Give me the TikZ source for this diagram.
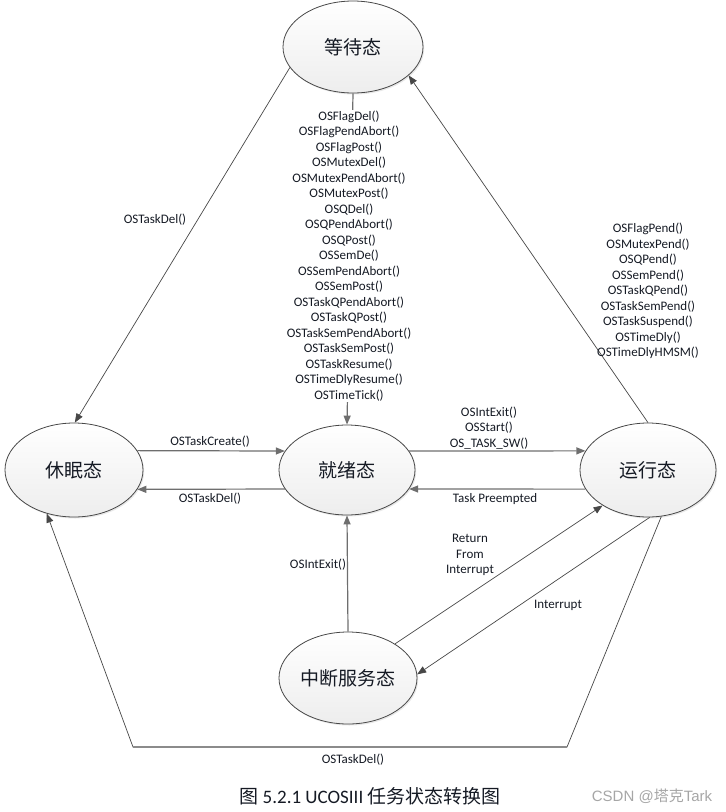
\documentclass[tikz,border=0pt]{standalone}
\usepackage{fontspec}
\setmainfont{Carlito}
\newfontfamily\cjk{Noto Sans CJK SC}
\newfontfamily\wmfont{Liberation Sans}
\usetikzlibrary{shapes.geometric,arrows.meta,shadows}
\definecolor{linec}{HTML}{474747}
\definecolor{lineg}{HTML}{6E6E6E}
\definecolor{txtc}{HTML}{151A24}
\begin{document}
\begin{tikzpicture}[x=1pt,y=-1pt,
  state/.style={ellipse, draw=linec, line width=0.8pt, top color=white, bottom color=gray!14,
    inner sep=0pt, text=txtc, font=\cjk\fontsize{19}{22}\selectfont,
    drop shadow={opacity=0.18,shadow xshift=1.2pt,shadow yshift=-1.5pt}},
  lbl/.style={font=\fontsize{13}{15.5}\selectfont, align=center, inner sep=1pt, text=txtc},
  thinarr/.style={draw=linec, line width=0.7pt, -{Triangle[length=9pt,width=7pt]}},
  thickarr/.style={draw=lineg, line width=1.2pt, -{Triangle[length=9pt,width=7pt]}}]
\useasboundingbox (0,0) rectangle (726,812);

% states
\node[state, minimum width=140pt, minimum height=92pt] (wait) at (353,47) {等待态};
\node[state, minimum width=138pt, minimum height=94pt] (sleep) at (74,470) {休眠态};
\node[state, minimum width=136pt, minimum height=90pt] (ready) at (347,470) {就绪态};
\node[state, minimum width=136pt, minimum height=94pt] (run) at (648,470) {运行态};
\node[state, minimum width=138pt, minimum height=92pt] (isr) at (348,678) {中断服务态};

% connectors
\draw[thinarr] (wait.198) -- (sleep.89);
\draw[thickarr] (wait.south) -- (ready.north);
\draw[thinarr] (run.90) -- (wait.333);
\draw[thickarr] (sleep.17) -- (ready.163);
\draw[thickarr] (ready.197) -- (sleep.343);
\draw[thickarr] (ready.17) -- (run.163);
\draw[thickarr] (run.197) -- (ready.343);
\draw[thickarr] (isr.north) -- (ready.south);
\draw[thinarr] (isr.36) -- (run.218);
\draw[thinarr] (run.272) -- (isr.3);
\coordinate (br) at (567,747);
\coordinate (bl) at (133,747);
\draw[thinarr] (run.286) -- (br) -- (bl) -- (sleep.238);
\draw[draw=lineg!80, line width=1.3pt] (br) -- (bl);

% labels
\node[lbl, fill=white] (lwr) at (349,256) {OSFlagDel()\\OSFlagPendAbort()\\OSFlagPost()\\OSMutexDel()\\OSMutexPendAbort()\\OSMutexPost()\\OSQDel()\\OSQPendAbort()\\OSQPost()\\OSSemDe()\\OSSemPendAbort()\\OSSemPost()\\OSTaskQPendAbort()\\OSTaskQPost()\\OSTaskSemPendAbort()\\OSTaskSemPost()\\OSTaskResume()\\OSTimeDlyResume()\\OSTimeTick()};
\node[lbl] (lrw) at (648,291) {OSFlagPend()\\OSMutexPend()\\OSQPend()\\OSSemPend()\\OSTaskQPend()\\OSTaskSemPend()\\OSTaskSuspend()\\OSTimeDly()\\OSTimeDlyHMSM()};
\node[lbl] (lws) at (155,220) {OSTaskDel()};
\node[lbl] (lsr) at (210,442) {OSTaskCreate()};
\node[lbl] (lrs) at (210,499) {OSTaskDel()};
\node[lbl] (lrr) at (489,428) {OSIntExit()\\OSStart()\\OS\_TASK\_SW()};
\node[lbl] (lpr) at (495,499) {Task Preempted};
\node[lbl] (lir) at (318,565) {OSIntExit()};
\node[lbl] (lret) at (470,555) {Return\\From\\Interrupt};
\node[lbl] (lint) at (558,605) {Interrupt};
\node[lbl] (lbot) at (353,760) {OSTaskDel()};

% caption and watermark
\node[text=txtc, font=\fontsize{19}{22}\selectfont, inner sep=0pt] (cap) at (370,796) {{\cjk 图} 5.2.1 UCOSIII {\cjk 任务状态转换图}};
\node[text=gray!70, font=\wmfont\fontsize{15}{18}\selectfont, inner sep=0pt] (wm) at (652,796) {CSDN @{\cjk 塔克}Tark};
\end{tikzpicture}
\end{document}
